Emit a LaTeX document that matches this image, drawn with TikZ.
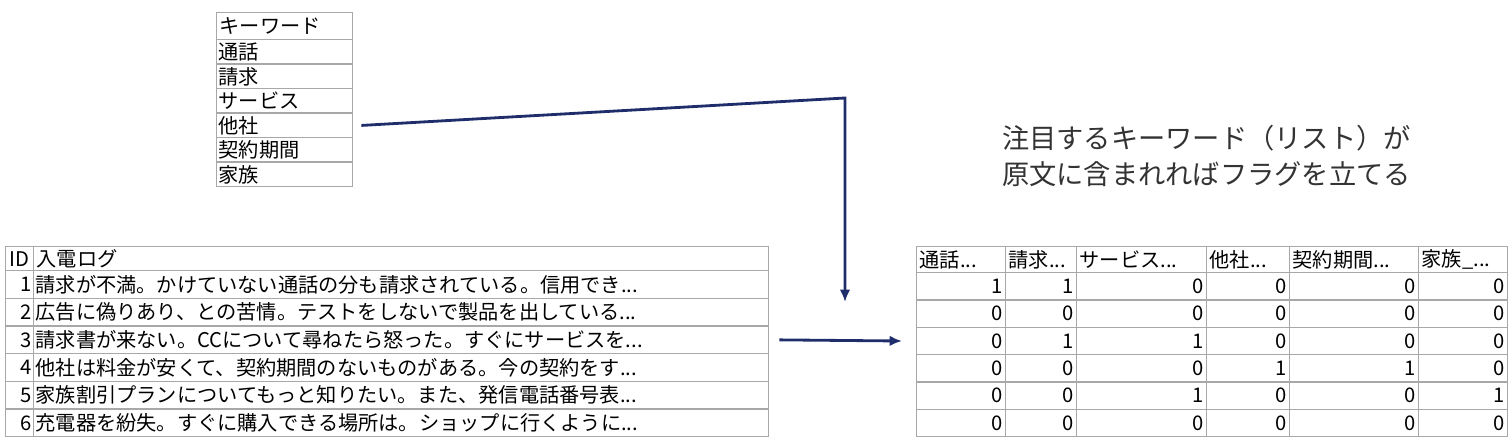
\documentclass[tikz,border=0pt]{standalone}
\usepackage{fontspec}
\setmainfont{Noto Sans CJK JP}
\usetikzlibrary{arrows.meta,calc}
\definecolor{navy}{HTML}{1F2D6B}
\definecolor{grid}{HTML}{A8A8A8}
\newcommand\cutoff{...}
\tikzset{cell/.style={draw=grid, line width=0.8pt, inner sep=0pt, minimum height=#1, anchor=north west}}
\tikzset{tabletext/.style={font=\fontsize{11.5}{12}\selectfont}}
\tikzset{flow/.style={draw=navy, line width=1.6pt, -{Latex[length=7pt,width=6pt]}}}
\tikzset{note/.style={font=\fontsize{15.5}{20}\selectfont, text=black!80, align=left}}

\begin{document}
\begin{tikzpicture}[x=0.02cm,y=-0.02cm,tabletext]
\useasboundingbox (0,0) rectangle (1512,448);
%
% keyword list
\node[cell=27*0.02cm,minimum width=136*0.02cm,text width=130*0.02cm,align=left] (kw0) at (216,12) {キーワード};
\foreach \k [count=\i] in {通話,請求,サービス,他社,契約期間,家族}
  \node[cell=24.5*0.02cm,minimum width=136*0.02cm,text width=132*0.02cm,align=left] (kw\i) at (216,{39+24.5*(\i-1)}) {\k};
%
% call log
\node[cell=24*0.02cm,minimum width=28*0.02cm] (id0) at (5,246) {ID};
\node[cell=24*0.02cm,minimum width=735*0.02cm,text width=729*0.02cm,align=left] (log0) at (33,246) {入電ログ};
\foreach \t [count=\i] in {請求が不満。かけていない通話の分も請求されている。信用でき\cutoff,
  広告に偽りあり、との苦情。テストをしないで製品を出している\cutoff,
  請求書が来ない。CCについて尋ねたら怒った。すぐにサービスを\cutoff,
  他社は料金が安くて、契約期間のないものがある。今の契約をす\cutoff,
  家族割引プランについてもっと知りたい。また、発信電話番号表\cutoff,
  充電器を紛失。すぐに購入できる場所は。ショップに行くように\cutoff}{
  \node[cell=27.67*0.02cm,minimum width=28*0.02cm,text width=24*0.02cm,align=right] (id\i) at (5,{270+27.67*(\i-1)}) {\i};
  \node[cell=27.67*0.02cm,minimum width=735*0.02cm,text width=731*0.02cm,align=left] (log\i) at (33,{270+27.67*(\i-1)}) {\t};
}
%
% flag table
\foreach \x/\w/\h [count=\c] in {916/89/通話\cutoff,1005/71/請求\cutoff,1076/130/サービス\cutoff,1206/83/他社\cutoff,1289/129/契約期間\cutoff,1418/89/家族\_\cutoff}
  \node[cell=26*0.02cm,minimum width=\w*0.02cm,text width={(\w-6)*0.02cm},align=left] (f0c\c) at (\x,246) {\h};
\foreach \row [count=\r] in {{1,1,0,0,0,0},{0,0,0,0,0,0},{0,1,1,0,0,0},{0,0,0,1,1,0},{0,0,1,0,0,1},{0,0,0,0,0,0}}{
  \foreach \x/\w [count=\c] in {916/89,1005/71,1076/130,1206/83,1289/129,1418/89}{
    \pgfmathtruncatemacro{\v}{{\row}[\c-1]}
    \node[cell=27.33*0.02cm,minimum width=\w*0.02cm,text width={(\w-6)*0.02cm},align=right] (f\r c\c) at (\x,{272+27.33*(\r-1)}) {\v};
  }
}
%
% arrows and note
\coordinate (bend) at (845,98);
\coordinate (drop) at (845,302);
\draw[flow] (kw4.east) ++(8,0) -- (bend) -- (drop);
\draw[flow] ($(log3.east)+(10,0)$) -- ($(f3c1.west)+(-14,0)$);
\node[note,anchor=west] (msg) at (996,156) {注目するキーワード（リスト）が\\原文に含まれればフラグを立てる};
\end{tikzpicture}
\end{document}
